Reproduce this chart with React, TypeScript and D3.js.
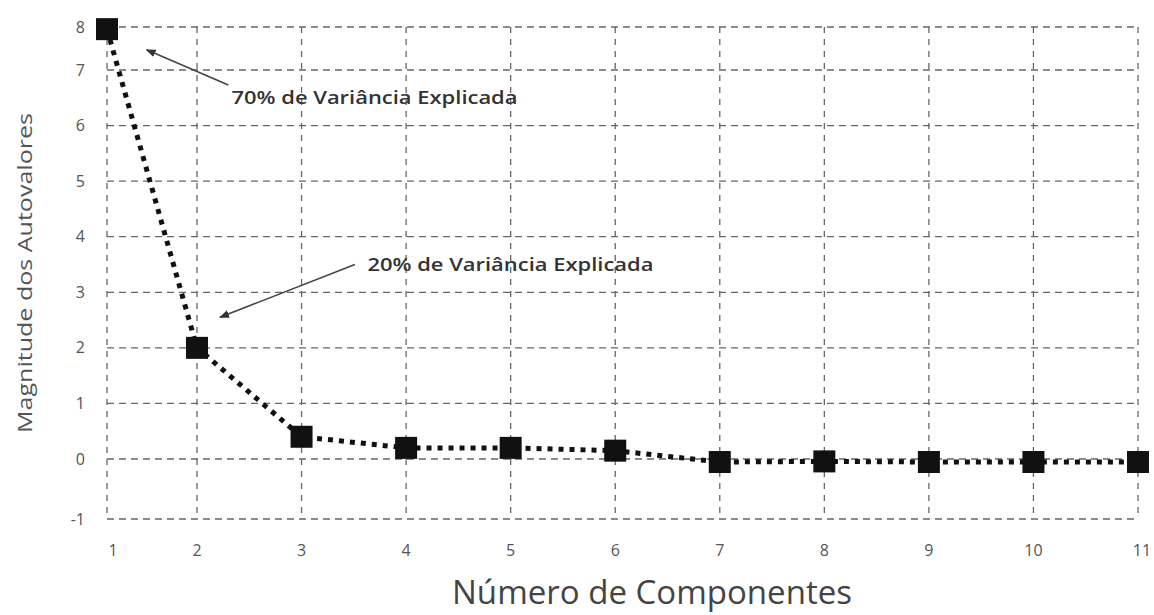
import React from 'react';
import * as d3 from 'd3';

// Eigenvalue magnitudes per component (scree plot)
const components = [1, 2, 3, 4, 5, 6, 7, 8, 9, 10, 11];
const eigenvalues = [7.95, 2.0, 0.4, 0.2, 0.2, 0.15, -0.05, -0.04, -0.05, -0.05, -0.05];
const yTicks = [-1, 0, 1, 2, 3, 4, 5, 6, 7, 8];

// annotations in data units
const annotations = [
  { label: '70% de Variância Explicada', tx: 2.33, ty: 6.38, from: [2.3, 6.73], to: [1.44, 7.47] },
  { label: '20% de Variância Explicada', tx: 3.63, ty: 3.38, from: [3.51, 3.5], to: [2.22, 2.55] },
];

const W = 1154;
const H = 615;

const App = () => {
  // the scanned figure is slightly uneven, so piecewise linear scales
  const x = d3.scaleLinear().domain([1, 2, 11]).range([107, 197, 1138]);
  const y = d3.scaleLinear().domain([-1, 0, 7, 8]).range([519, 459, 70, 27]);

  const line = d3.line<number>()
    .x((_, i) => x(components[i]))
    .y((d) => y(d));

  const font = "'Open Sans', 'Noto Sans', sans-serif";
  const grid = '#666';

  return (
    <svg width={W} height={H} style={{ position: 'absolute', left: 0, top: 0, background: '#fff' }}>
      <defs>
        <marker id="arrow" viewBox="0 0 10 10" refX="9" refY="5" markerWidth="10" markerHeight="10" orient="auto-start-reverse" markerUnits="userSpaceOnUse">
          <path d="M0,1 L10,5 L0,9 z" fill="#333" />
        </marker>
      </defs>

      {/* grid */}
      {yTicks.map((t) => (
        <line key={'h' + t} x1={x(1)} x2={x(11)} y1={y(t)} y2={y(t)}
          stroke={grid} strokeWidth={1.3} strokeDasharray="7,5" />
      ))}
      {components.map((c) => (
        <line key={'v' + c} x1={x(c)} x2={x(c)} y1={y(8)} y2={y(-1)}
          stroke={grid} strokeWidth={1.3} strokeDasharray="6,6" />
      ))}

      {/* tick labels */}
      {yTicks.map((t) => (
        <text key={'yl' + t} x={85} y={y(t)} dy="0.35em" textAnchor="end"
          fontFamily={font} fontSize={16} fill="#555">{t}</text>
      ))}
      {components.map((c) => (
        <text key={'xl' + c} x={x(c) + (c === 1 ? 6 : c === 11 ? 4 : 0)} y={556} textAnchor="middle"
          fontFamily={font} fontSize={16} fill="#555">{c}</text>
      ))}

      {/* axis titles */}
      <text transform={`translate(25,273) rotate(-90)`} textAnchor="middle" dy="0.35em"
        fontFamily={font} fontSize={20} fill="#555" textLength={320} lengthAdjust="spacingAndGlyphs">
        Magnitude dos Autovalores
      </text>
      <text x={652} y={604} textAnchor="middle" fontFamily={font} fontSize={33} fill="#444"
        textLength={400} lengthAdjust="spacingAndGlyphs">
        Número de Componentes
      </text>

      {/* series */}
      <path d={line(eigenvalues) || ''} fill="none" stroke="#111" strokeWidth={5}
        strokeDasharray="5,6" />
      {eigenvalues.map((v, i) => (
        <rect key={'m' + i} x={x(components[i]) - 11} y={y(v) - 11} width={22} height={22} fill="#111" />
      ))}

      {/* annotations */}
      {annotations.map((a) => (
        <g key={a.label}>
          <line x1={x(a.from[0])} y1={y(a.from[1])} x2={x(a.to[0])} y2={y(a.to[1])}
            stroke="#444" strokeWidth={1.6} markerEnd="url(#arrow)" />
          <text x={x(a.tx)} y={y(a.ty)} fontFamily={font} fontSize={18} fontWeight={600} fill="#333"
            textLength={286} lengthAdjust="spacingAndGlyphs">
            {a.label}
          </text>
        </g>
      ))}
    </svg>
  );
};

export default App;
